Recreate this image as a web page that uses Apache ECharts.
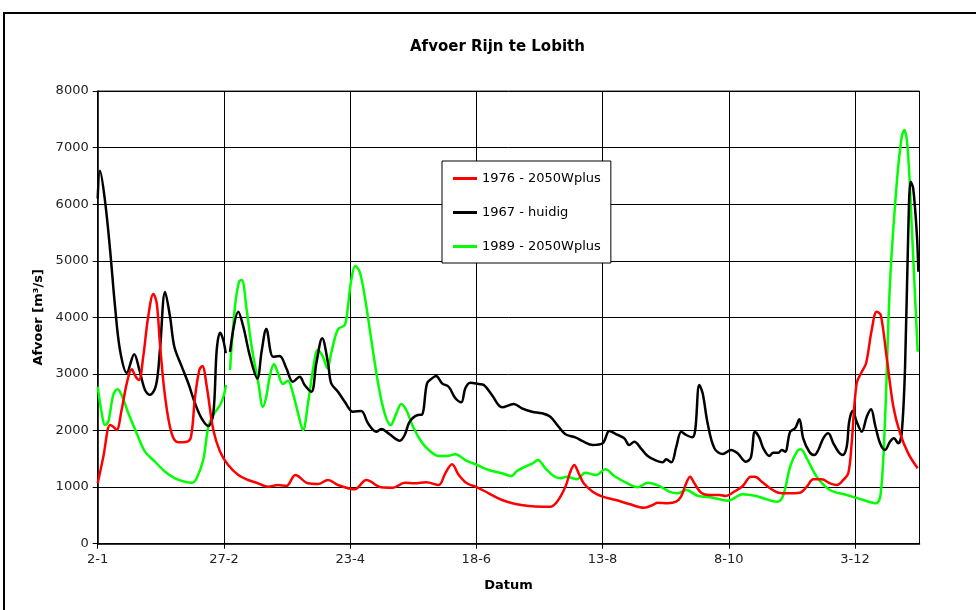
<!DOCTYPE html>
<html>
<head>
<meta charset="utf-8">
<title>Afvoer Rijn te Lobith</title>
<script src="https://cdn.jsdelivr.net/npm/echarts@6/dist/echarts.min.js"></script>
<style>
  html, body { margin: 0; padding: 0; background: #fff; }
  #chart { width: 976px; height: 610px; }
</style>
</head>
<body>
<div id="chart"></div>
<script>
// Days counted from 2 January; each pair is [day, discharge in m3/s]
const dateLabels = ['2-1', '27-2', '23-4', '18-6', '13-8', '8-10', '3-12'];
const dayStep = 56;

const flow1976 = [
  [0, 1067], [2.5, 1537], [5.5, 2097], [6.9, 2067], [8.4, 2009], [10.6, 2362], [12.9, 2834],
  [15.1, 3081], [16.9, 2950], [18.3, 2893], [20.2, 3305], [22.4, 4010], [24.7, 4412], [26.2, 4248],
  [27.6, 3541], [29.9, 2597], [32.8, 1951], [35.8, 1792], [39.5, 1802], [41.4, 1891], [43.2, 2597],
  [45.1, 3070], [46.4, 3140], [48.4, 2774], [51.3, 2009], [54.3, 1626], [57.9, 1391], [62.4, 1214],
  [66.8, 1126], [71.1, 1067], [75.6, 1007], [80.0, 1037], [83.7, 1020], [87.7, 1214], [93.3, 1067],
  [97.7, 1055], [102.2, 1126], [106.6, 1037], [114.0, 961], [119.2, 1126], [125.8, 997], [131.0, 990],
  [136.2, 1078], [140.6, 1067], [145.8, 1085], [151.3, 1037], [154.2, 1244], [157.2, 1403], [160.2, 1214],
  [163.8, 1067], [168.3, 997], [173.5, 890], [179.4, 772], [185.3, 701], [191.2, 666], [197.1, 654],
  [200.8, 654], [203.8, 742], [207.5, 1007], [209.7, 1272], [211.4, 1391], [213.4, 1244], [215.6, 1067],
  [219.6, 919], [224.0, 831], [229.9, 772], [235.8, 701], [242.5, 636], [246.2, 684], [248.4, 724],
  [252.9, 714], [256.6, 742], [258.8, 831], [261.1, 1067], [262.8, 1184], [264.7, 1067], [267.7, 901],
  [271.4, 861], [275.8, 861], [278.8, 843], [282.4, 919], [286.2, 1020], [289.8, 1184], [291.6, 1184],
  [294.6, 1096], [298.3, 979], [302.0, 901], [305.7, 890], [311.6, 901], [314.6, 1007], [317.5, 1138],
  [321.2, 1138], [324.9, 1067], [327.9, 1037], [330.8, 1126], [333.0, 1244], [334.5, 1774], [336.7, 2834],
  [339.0, 3039], [340.9, 3188], [343.4, 3776], [345.6, 4100], [347.4, 4041], [350.0, 3305], [353.0, 2421],
  [356.0, 1951], [359.6, 1597], [363.8, 1332]
];

const flow1967 = [
  [0, 6100], [1.0, 6590], [3.2, 6073], [5.5, 5190], [7.7, 4190], [9.9, 3420], [12.9, 3020],
  [16.2, 3350], [18.5, 3070], [21.0, 2715], [23.2, 2630], [25.9, 2805], [27.6, 3420], [29.9, 4450],
  [32.1, 4010], [34.0, 3480], [37.3, 3130], [40.2, 2835], [43.2, 2480], [46.1, 2215], [49.1, 2080],
  [51.3, 2304], [52.8, 3420], [54.3, 3730], [55.7, 3600], [56.8, 3365], [57.8, '-'],
  [58.7, 3390], [62.4, 4100], [64.6, 3835], [67.6, 3305], [70.8, 2920], [72.8, 3420], [74.8, 3795],
  [77.8, 3305], [80.7, 3317], [83.7, 3100], [86.6, 2862], [89.6, 2950], [91.8, 2804], [94.8, 2686],
  [97.0, 3188], [99.6, 3630], [102.2, 3188], [103.6, 2834], [106.6, 2686], [109.6, 2509], [113.3, 2332],
  [116.9, 2345], [119.9, 2127], [123.6, 1979], [125.8, 2027], [129.5, 1933], [134.0, 1820], [136.2, 1921],
  [138.4, 2156], [142.1, 2274], [143.9, 2280], [146.1, 2834], [148.3, 2922], [150.1, 2963], [152.8, 2834],
  [155.7, 2774], [158.7, 2569], [161.3, 2498], [163.1, 2746], [165.3, 2845], [169.0, 2822], [171.3, 2804],
  [174.9, 2628], [179.4, 2410], [184.6, 2468], [188.2, 2392], [192.7, 2333], [197.1, 2304], [200.8, 2244],
  [204.5, 2067], [207.5, 1933], [211.9, 1880], [215.6, 1802], [219.6, 1744], [224.0, 1774], [227.0, 1991],
  [229.9, 1938], [233.6, 1862], [235.8, 1744], [238.1, 1802], [241.0, 1686], [244.0, 1550], [247.8, 1467],
  [250.7, 1438], [252.2, 1491], [254.5, 1438], [256.7, 1714], [258.9, 1979], [261.1, 1921], [263.8, 1880],
  [265.1, 2009], [266.9, 2804], [268.4, 2658], [270.6, 2127], [273.6, 1686], [277.3, 1585], [281.0, 1656],
  [283.9, 1597], [287.6, 1449], [289.8, 1527], [291.6, 1979], [293.5, 1880], [295.3, 1686], [298.0, 1550],
  [299.7, 1608], [302.0, 1608], [303.5, 1656], [305.0, 1626], [307.2, 1979], [309.4, 2039], [311.3, 2198],
  [313.0, 1862], [315.7, 1626], [317.9, 1567], [319.7, 1656], [321.9, 1862], [324.1, 1951], [326.4, 1774],
  [328.6, 1626], [330.5, 1567], [332.3, 1714], [333.4, 2156], [335.0, 2350], [336.7, 2156], [339.0, 1979],
  [341.2, 2244], [343.1, 2374], [344.9, 2097], [347.1, 1774], [349.3, 1656], [351.5, 1802], [353.2, 1862],
  [355.2, 1774], [356.7, 1951], [358.2, 3128], [359.6, 5485], [360.7, 6397], [361.8, 6280], [363.4, 5485],
  [364.1, 4806]
];

const flow1989 = [
  [0, 2774], [1.8, 2304], [3.2, 2097], [4.7, 2156], [6.9, 2628], [8.7, 2728], [10.6, 2628],
  [13.6, 2304], [17.3, 1951], [21.0, 1626], [25.4, 1449], [29.9, 1272], [34.3, 1156], [38.7, 1096],
  [42.0, 1078], [43.9, 1156], [46.8, 1479], [49.1, 2067], [51.3, 2274], [54.3, 2451], [56.0, 2628],
  [56.9, 2804], [57.8, '-'],
  [58.7, 3070], [60.9, 4188], [62.7, 4630], [63.9, 4660], [66.1, 4130], [68.3, 3481], [71.3, 2834],
  [73.3, 2421], [74.8, 2598], [76.3, 2951], [78.2, 3175], [80.0, 3011], [82.2, 2822], [84.4, 2880],
  [86.6, 2658], [88.9, 2304], [91.1, 2009], [93.3, 2481], [95.5, 3070], [97.7, 3423], [99.9, 3305],
  [101.9, 3099], [103.9, 3423], [106.6, 3788], [109.6, 3865], [111.0, 4188], [112.5, 4660], [114.3, 4907],
  [116.2, 4806], [118.5, 4365], [121.4, 3599], [124.4, 2834], [127.3, 2304], [130.0, 2097], [132.5, 2304],
  [134.7, 2468], [136.9, 2362], [139.9, 2067], [143.6, 1802], [146.9, 1656], [151.3, 1550], [155.0, 1550],
  [158.7, 1580], [163.1, 1479], [168.3, 1391], [173.5, 1302], [179.4, 1244], [183.5, 1196], [186.0, 1285],
  [189.7, 1361], [193.0, 1421], [195.3, 1479], [198.6, 1332], [202.3, 1196], [205.2, 1156], [208.2, 1184],
  [212.6, 1138], [216.3, 1255], [221.1, 1214], [225.2, 1315], [229.2, 1196], [234.4, 1078], [239.6, 997],
  [244.0, 1078], [249.2, 1020], [253.6, 919], [257.3, 890], [261.1, 949], [266.2, 848], [272.8, 813],
  [279.5, 760], [286.2, 873], [292.1, 843], [295.3, 802], [301.5, 742], [304.2, 861], [307.2, 1361],
  [310.2, 1626], [311.9, 1668], [314.6, 1509], [319.0, 1184], [324.9, 949], [332.3, 861], [339.7, 772],
  [345.3, 714], [347.4, 890], [349.3, 2186], [351.5, 4601], [354.5, 6368], [356.7, 7192], [357.9, 7310],
  [359.4, 6957], [361.3, 5485], [362.7, 4306], [363.8, 3393]
];

const seriesNames = ['1976 - 2050Wplus', '1967 - huidig', '1989 - 2050Wplus'];
const seriesColors = ['#ff0000', '#000000', '#00ff00'];
const seriesData = [flow1976, flow1967, flow1989];

const FONT = '"DejaVu Sans", Verdana, sans-serif';
const chart = echarts.init(document.getElementById('chart'), null, { renderer: 'canvas' });

chart.setOption({
  backgroundColor: '#ffffff',
  animation: false,
  title: {
    text: 'Afvoer Rijn te Lobith',
    left: 405,
    top: 35,
    textStyle: { fontFamily: FONT, fontSize: 15, fontWeight: 'bold', color: '#000' }
  },
  graphic: [{
    type: 'rect',
    shape: { x: 4, y: 13, width: 1000, height: 700 },
    style: { fill: 'none', stroke: '#000', lineWidth: 2 },
    silent: true
  }],
  legend: {
    orient: 'vertical',
    left: 442,
    top: 161,
    padding: [10, 10, 9, 11],
    icon: 'rect',
    itemWidth: 24,
    itemHeight: 3,
    itemGap: 19,
    backgroundColor: '#fff',
    borderColor: '#000',
    borderWidth: 1,
    textStyle: { fontFamily: FONT, fontSize: 13, color: '#000', lineHeight: 15 },
    data: seriesNames
  },
  grid: {
    left: 97.7,
    right: 56.5,
    top: 91,
    bottom: 66.3,
    show: true,
    borderColor: '#333',
    borderWidth: 1
  },
  xAxis: {
    type: 'value',
    min: 0,
    max: 364.6,
    interval: dayStep,
    name: 'Datum',
    nameLocation: 'middle',
    nameGap: 35,
    nameTextStyle: { fontFamily: FONT, fontSize: 13, fontWeight: 'bold', color: '#000' },
    axisLine: { show: true, lineStyle: { color: '#000', width: 1.5 } },
    axisTick: { show: true, length: 5, inside: false, lineStyle: { color: '#000' } },
    axisLabel: {
      fontFamily: FONT, fontSize: 13, color: '#222', margin: 9,
      showMaxLabel: false,
      formatter: function (v) {
        const i = Math.round(v / dayStep);
        return (Math.abs(v - i * dayStep) < 0.01 && dateLabels[i]) ? dateLabels[i] : '';
      }
    },
    splitLine: { show: true, lineStyle: { color: '#000', width: 1 } }
  },
  yAxis: {
    type: 'value',
    min: 0,
    max: 8000,
    interval: 1000,
    name: 'Afvoer [m³/s]',
    nameLocation: 'middle',
    nameGap: 46,
    nameTextStyle: { fontFamily: FONT, fontSize: 13, fontWeight: 'bold', color: '#000' },
    axisLine: { show: true, lineStyle: { color: '#000', width: 1.5 } },
    axisTick: { show: true, length: 5, lineStyle: { color: '#000' } },
    axisLabel: {
      fontFamily: FONT, fontSize: 13, color: '#222', margin: 9,
      formatter: function (v) { return String(v); }
    },
    splitLine: { show: true, lineStyle: { color: '#000', width: 1 } }
  },
  series: seriesNames.map(function (name, k) {
    return {
      name: name,
      type: 'line',
      data: seriesData[k],
      smooth: 0.35,
      symbol: 'none',
      connectNulls: false,
      color: seriesColors[k],
      lineStyle: { color: seriesColors[k], width: 2.5 },
      z: k === 2 ? 3 : (k === 1 ? 4 : 5)
    };
  })
});
</script>
</body>
</html>
